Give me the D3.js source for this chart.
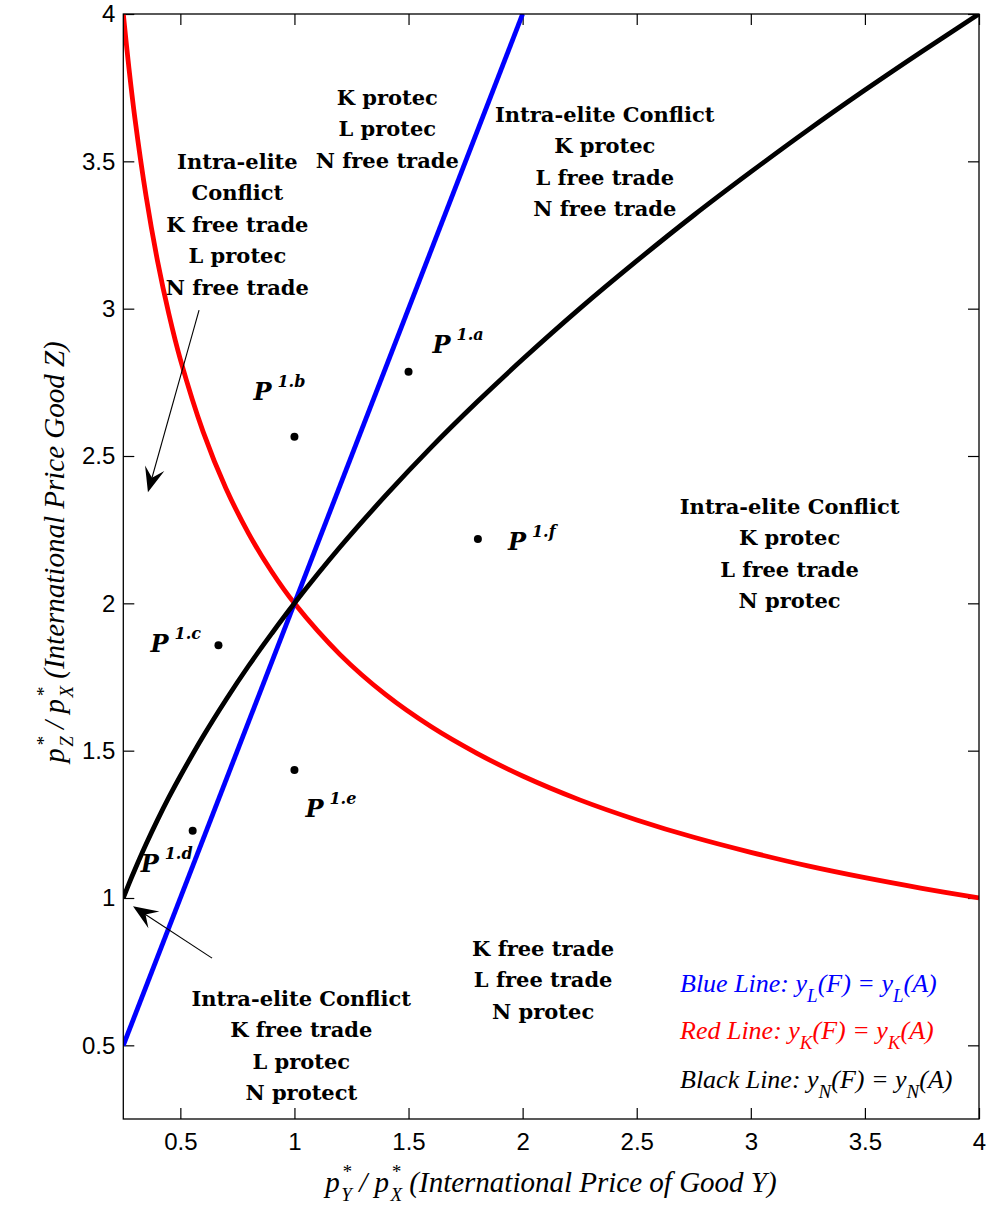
<!DOCTYPE html>
<html><head><meta charset="utf-8">
<script src="https://cdn.jsdelivr.net/npm/d3@7"></script>
<style>body{margin:0;background:#fff} svg{display:block}</style>
</head><body><svg id="chart" width="1006" height="1212"></svg>
<script>
// ---------- data ----------
const xTicks = [0.5, 1, 1.5, 2, 2.5, 3, 3.5, 4];
const xTickLabels = ["0.5", "1", "1.5", "2", "2.5", "3", "3.5", "4"];
const yTicks = [0.5, 1, 1.5, 2, 2.5, 3, 3.5, 4];
const yTickLabels = ["0.5", "1", "1.5", "2", "2.5", "3", "3.5", "4"];

const curveX = [0.25, 0.275, 0.3, 0.35, 0.4, 0.45, 0.5, 0.6, 0.7, 0.8, 0.9, 1, 1.2, 1.4, 1.6, 1.8, 2, 2.25, 2.5, 2.75, 3, 3.25, 3.5, 3.75, 4];
const redY   = [4.000, 3.814, 3.651, 3.381, 3.162, 2.981, 2.828, 2.582, 2.390, 2.236, 2.108, 2.000, 1.826, 1.690, 1.581, 1.491, 1.414, 1.333, 1.265, 1.206, 1.155, 1.109, 1.069, 1.033, 1.000];
const blackY = [1.000, 1.049, 1.095, 1.183, 1.265, 1.342, 1.414, 1.549, 1.673, 1.789, 1.897, 2.000, 2.191, 2.366, 2.530, 2.683, 2.828, 3.000, 3.162, 3.317, 3.464, 3.606, 3.742, 3.873, 4.000];
const blueX  = [0.25, 2];
const blueY  = [0.5, 4];

const pointNames = ["1.a", "1.b", "1.c", "1.d", "1.e", "1.f"];
const pointX = [1.5, 1.0, 0.667, 0.554, 1.0, 1.804];
const pointY = [2.786, 2.565, 1.858, 1.228, 1.434, 2.218];

const regionText = [
  ["K protec", "L protec", "N free trade"],
  ["Intra-elite Conflict", "K protec", "L free trade", "N free trade"],
  ["Intra-elite", "Conflict", "K free trade", "L protec", "N free trade"],
  ["Intra-elite Conflict", "K protec", "L free trade", "N protec"],
  ["K free trade", "L free trade", "N protec"],
  ["Intra-elite Conflict", "K free trade", "L protec", "N protect"]
];
const regionX = [1.407, 2.36, 0.75, 3.17, 2.09, 1.03];
const regionY = [3.718, 3.66, 3.50, 2.33, 0.83, 0.66];

const arrowFromX = [0.582, 0.639];
const arrowFromY = [2.995, 0.796];
const arrowToX   = [0.358, 0.2925];
const arrowToY   = [2.377, 0.972];

const legendNames = ["Blue Line:", "Red Line:", "Black Line:"];
const legendSubs  = ["L", "K", "N"];
const legendColors = ["#0000ff", "#ff0000", "#000000"];

// ---------- layout ----------
const L = 123.3, R = 979, T = 14, B = 1119;
const svg = d3.select("#chart");
const x = d3.scaleLinear().domain([0.25, 4]).range([L, R]);
const y = d3.scaleLinear().domain([0.25, 4]).range([B, T]);

svg.append("defs").append("clipPath").attr("id", "clip")
  .append("rect").attr("x", L).attr("y", T).attr("width", R - L).attr("height", B - T);

// axes (inward ticks on all sides)
const tickFont = "'Liberation Sans', Arial, sans-serif";
const gxb = svg.append("g").attr("transform", `translate(0,${B})`)
  .call(d3.axisBottom(x).tickValues(xTicks).tickFormat((d, i) => xTickLabels[i])
    .tickSizeInner(-11).tickSizeOuter(0).tickPadding(14));
const gyl = svg.append("g").attr("transform", `translate(${L},0)`)
  .call(d3.axisLeft(y).tickValues(yTicks).tickFormat((d, i) => yTickLabels[i])
    .tickSizeInner(-11).tickSizeOuter(0).tickPadding(8));
const gxt = svg.append("g").attr("transform", `translate(0,${T})`)
  .call(d3.axisTop(x).tickValues(xTicks).tickFormat("").tickSizeInner(-11).tickSizeOuter(0));
const gyr = svg.append("g").attr("transform", `translate(${R},0)`)
  .call(d3.axisRight(y).tickValues(yTicks).tickFormat("").tickSizeInner(-11).tickSizeOuter(0));
[gxb, gyl, gxt, gyr].forEach(g => {
  g.select(".domain").remove();
  g.selectAll("line").attr("stroke", "#000").attr("stroke-width", 1.2);
  g.selectAll("text").attr("font-family", tickFont).attr("font-size", 24).attr("fill", "#000");
});

// curves
const line = d3.line().x(d => x(d[0])).y(d => y(d[1])).curve(d3.curveCatmullRom.alpha(0.5));
const plot = svg.append("g").attr("clip-path", "url(#clip)");
plot.append("path").datum(curveX.map((v, i) => [v, redY[i]]))
  .attr("d", line).attr("fill", "none").attr("stroke", "#ff0000").attr("stroke-width", 4.8);
plot.append("path").datum(blueX.map((v, i) => [v, blueY[i]]))
  .attr("d", line).attr("fill", "none").attr("stroke", "#0000ff").attr("stroke-width", 4.8);
plot.append("path").datum(curveX.map((v, i) => [v, blackY[i]]))
  .attr("d", line).attr("fill", "none").attr("stroke", "#000").attr("stroke-width", 4.8)
  .attr("stroke-linejoin", "round");

// frame
svg.append("rect").attr("x", L).attr("y", T).attr("width", R - L).attr("height", B - T)
  .attr("fill", "none").attr("stroke", "#000").attr("stroke-width", 1.3);

// points
const labelOff = [[24, -19], [-41, -37], [-68, 7], [-52, 41], [11, 47], [30, 11]];
pointX.forEach((px, i) => {
  const cx = x(px), cy = y(pointY[i]);
  svg.append("circle").attr("cx", cx).attr("cy", cy).attr("r", 4).attr("fill", "#000");
  const t = svg.append("text").attr("x", cx + labelOff[i][0]).attr("y", cy + labelOff[i][1])
    .attr("font-family", "'DejaVu Serif', serif").attr("font-weight", "bold")
    .attr("font-style", "italic").attr("font-size", 24).attr("fill", "#000");
  t.append("tspan").text("P");
  t.append("tspan").attr("dx", 6).attr("dy", -13).attr("font-size", 16).text(pointNames[i]);
});

// region annotations
regionText.forEach((lines, i) => {
  const t = svg.append("text").attr("text-anchor", "middle")
    .attr("font-family", "'DejaVu Serif', serif").attr("font-weight", "bold")
    .attr("font-size", 21).attr("fill", "#000");
  lines.forEach((s, j) => {
    t.append("tspan").attr("x", x(regionX[i]))
      .attr("y", y(regionY[i]) + j * 31.5).attr("dy", "0.36em").text(s);
  });
});

// arrows
arrowFromX.forEach((fx, i) => {
  const x0 = x(fx), y0 = y(arrowFromY[i]), x1 = x(arrowToX[i]), y1 = y(arrowToY[i]);
  const ang = Math.atan2(y1 - y0, x1 - x0);
  const len = Math.hypot(x1 - x0, y1 - y0);
  const g = svg.append("g").attr("transform", `translate(${x0},${y0}) rotate(${ang * 180 / Math.PI})`);
  g.append("line").attr("x1", 0).attr("y1", 0).attr("x2", len - 14).attr("y2", 0)
    .attr("stroke", "#000").attr("stroke-width", 1.1);
  g.append("path").attr("d", `M${len},0 L${len - 25},-10 L${len - 15},0 L${len - 25},10 Z`)
    .attr("fill", "#000");
});

// legend
const legFont = "'Liberation Serif', 'Times New Roman', serif";
legendNames.forEach((nm, i) => {
  const t = svg.append("text").attr("x", 680).attr("y", [992, 1039, 1088][i])
    .attr("font-family", legFont).attr("font-style", "italic").attr("font-size", 26)
    .attr("fill", legendColors[i]);
  t.append("tspan").text(nm + " y");
  t.append("tspan").attr("dy", 10).attr("font-size", 19).text(legendSubs[i]);
  t.append("tspan").attr("dy", -10).text("(F) = y");
  t.append("tspan").attr("dy", 10).attr("font-size", 19).text(legendSubs[i]);
  t.append("tspan").attr("dy", -10).text("(A)");
});

// axis labels
function axisLabel(sel, subA, subB, rest) {
  sel.attr("font-family", legFont).attr("font-style", "italic").attr("font-size", 29).attr("fill", "#000");
  sel.append("tspan").text("p");
  sel.append("tspan").attr("dx", 2).attr("dy", -14).attr("font-size", 19).text("*");
  sel.append("tspan").attr("dx", -10).attr("dy", 23).attr("font-size", 19).text(subA);
  sel.append("tspan").attr("dy", -9).text(" / p");
  sel.append("tspan").attr("dx", 2).attr("dy", -14).attr("font-size", 19).text("*");
  sel.append("tspan").attr("dx", -10).attr("dy", 23).attr("font-size", 19).text(subB);
  sel.append("tspan").attr("dy", -9).text(" " + rest);
}
axisLabel(svg.append("text").attr("text-anchor", "middle").attr("x", 551).attr("y", 1192),
  "Y", "X", "(International Price of Good Y)");
axisLabel(svg.append("text").attr("text-anchor", "middle")
  .attr("transform", "translate(64,552) rotate(-90)"),
  "Z", "X", "(International Price Good Z)");
</script></body></html>
